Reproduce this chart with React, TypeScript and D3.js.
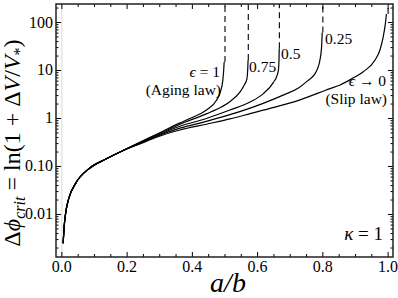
import React from "react";
import * as d3 from "d3";

const xTicks = [0, 0.2, 0.4, 0.6, 0.8, 1.0];
const xTickLabels = ["0.0", "0.2", "0.4", "0.6", "0.8", "1.0"];
const yTicks = [0.01, 0.1, 1, 10, 100];
const yTickLabels = ["0.01", "0.10", "1", "10", "100"];

// shared lower branch (all curves coincide)
const sharedA = [0.004, 0.007, 0.012, 0.022, 0.043, 0.085, 0.135, 0.188];
const sharedV = [0.00252, 0.00556, 0.0112, 0.0225, 0.0455, 0.092, 0.143, 0.216];

// eps = 1 (aging law)
const eps1A = [0.239, 0.29, 0.362, 0.392, 0.443, 0.474, 0.486, 0.493, 0.496, 0.4975];
const eps1V = [0.32, 0.468, 0.81, 1.0, 1.5, 2.4, 3.6, 6, 10, 15];
// eps = 0.75
const eps075A = [0.239, 0.29, 0.362, 0.443, 0.49, 0.515, 0.545, 0.56, 0.567, 0.5695, 0.5708];
const eps075V = [0.316, 0.452, 0.76, 1.25, 1.75, 2.24, 3.5, 5.1, 6.6, 10, 16.5];
// eps = 0.5
const eps05A = [0.239, 0.29, 0.362, 0.443, 0.515, 0.577, 0.6175, 0.648, 0.66, 0.664, 0.6655, 0.6663];
const eps05V = [0.309, 0.437, 0.69, 1.0, 1.5, 2.2, 3.3, 5.6, 8, 10.5, 16, 29];
// eps = 0.25
const eps025A = [0.239, 0.29, 0.362, 0.443, 0.515, 0.617, 0.68, 0.725, 0.752, 0.775, 0.786, 0.791, 0.796, 0.798];
const eps025V = [0.302, 0.422, 0.63, 0.87, 1.2, 2.07, 3.1, 4.3, 6.0, 8.4, 12, 16.5, 30, 62];
// eps -> 0 (slip law)
const eps0A = [0.239, 0.29, 0.362, 0.443, 0.515, 0.577, 0.65, 0.73, 0.822, 0.853, 0.89, 0.923, 0.96, 0.975, 0.985, 0.991, 0.995];
const eps0V = [0.295, 0.407, 0.575, 0.76, 0.98, 1.26, 1.7, 2.45, 4.2, 5.0, 6.8, 9.3, 16.5, 26.7, 50, 88, 150];

const curveAs = [eps1A, eps075A, eps05A, eps025A, eps0A];
const curveVs = [eps1V, eps075V, eps05V, eps025V, eps0V];
const asymptotes = [0.5, 0.5714, 0.6667, 0.8, 1.0];
const dashStart = [15, 16.5, 29, 62, 150];

const W = 398, H = 298;
const L = 56, R = 393, T = 4, B = 257;
const FONT = "'Liberation Serif', 'DejaVu Serif', 'Times New Roman', serif";

export default function App() {
  const x = d3.scaleLinear().domain([-0.018, 1.015]).range([L, R]);
  const y = d3.scaleLog().domain([0.0013, 243]).range([B, T]);
  const line = d3
    .line<[number, number]>()
    .x((d) => x(d[0]))
    .y((d) => y(d[1]))
    .curve(d3.curveMonotoneX);

  const shared: [number, number][] = sharedA.map((a, i) => [a, sharedV[i]]);
  const paths = curveAs.map((as, k) => {
    const pts: [number, number][] = shared.concat(as.map((a, i) => [a, curveVs[k][i]] as [number, number]));
    return line(pts) || "";
  });

  const xMinor: number[] = [];
  for (let i = 1; i < 20; i++) if (i % 4 !== 0) xMinor.push(i * 0.05);
  const yMinor: number[] = [];
  for (let d = -3; d <= 2; d++) for (let k = 2; k <= 9; k++) {
    const v = k * Math.pow(10, d);
    if (v > 0.0013 && v < 243) yMinor.push(v);
  }

  return (
    <svg width={W} height={H} style={{ position: "absolute", left: 0, top: 0, background: "#fff", fontFamily: FONT }}>
      <rect x={0} y={0} width={W} height={H} fill="#fff" />
      <line x1={x(0)} x2={x(0)} y1={T} y2={B} stroke="#c8c8c8" strokeWidth={0.7} />
      {paths.map((p, i) => (
        <path key={i} d={p} fill="none" stroke="#000" strokeWidth={1.2} />
      ))}
      {asymptotes.map((a, i) => (
        <line key={i} x1={x(a)} x2={x(a)} y1={y(dashStart[i])} y2={T} stroke="#000" strokeWidth={1.1} strokeDasharray="6,4" />
      ))}
      <g stroke="#000" strokeWidth={1}>
        {xTicks.map((t, i) => (
          <g key={"xt" + i}>
            <line x1={x(t)} x2={x(t)} y1={B} y2={B - 5} />
            <line x1={x(t)} x2={x(t)} y1={T} y2={T + 5} />
          </g>
        ))}
        {xMinor.map((t, i) => (
          <g key={"xm" + i}>
            <line x1={x(t)} x2={x(t)} y1={B} y2={B - 3} />
            <line x1={x(t)} x2={x(t)} y1={T} y2={T + 3} />
          </g>
        ))}
        {yTicks.map((t, i) => (
          <g key={"yt" + i}>
            <line x1={L} x2={L + 5} y1={y(t)} y2={y(t)} />
            <line x1={R} x2={R - 5} y1={y(t)} y2={y(t)} />
          </g>
        ))}
        {yMinor.map((t, i) => (
          <g key={"ym" + i}>
            <line x1={L} x2={L + 2.5} y1={y(t)} y2={y(t)} />
            <line x1={R} x2={R - 2.5} y1={y(t)} y2={y(t)} />
          </g>
        ))}
      </g>
      <rect x={L} y={T} width={R - L} height={B - T} fill="none" stroke="#222" strokeWidth={1.5} />
      {xTicks.map((t, i) => (
        <text key={"xl" + i} x={x(t)} y={272} fontSize={16} textAnchor="middle" fill="#000">
          {xTickLabels[i]}
        </text>
      ))}
      {yTicks.map((t, i) => (
        <text key={"yl" + i} x={53} y={y(t) + 5} fontSize={16} textAnchor="end" fill="#000">
          {yTickLabels[i]}
        </text>
      ))}
      <text x={228} y={292} fontSize={28} fontStyle="italic" textAnchor="middle" fill="#000">
        a/b
      </text>
      <text transform="translate(20,143) rotate(-90)" fontSize={24} textAnchor="middle" fill="#000">
        Δ<tspan fontStyle="italic">ϕ</tspan>
        <tspan fontStyle="italic" fontSize={16} dy={5}>crit</tspan>
        <tspan dy={-5}> = ln(1 + Δ</tspan>
        <tspan fontStyle="italic">V</tspan>
        <tspan>/</tspan>
        <tspan fontStyle="italic">V</tspan>
        <tspan fontSize={16} dy={5}>*</tspan>
        <tspan dy={-5}>)</tspan>
      </text>
      <g fontSize={15.5} fill="#000">
        <text x={220} y={77} textAnchor="end"><tspan fontStyle="italic">ϵ</tspan> = 1</text>
        <text x={221} y={95} textAnchor="end">(Aging law)</text>
        <text x={249} y={72}>0.75</text>
        <text x={281} y={59}>0.5</text>
        <text x={325} y={44}>0.25</text>
        <text x={386} y={86} textAnchor="end"><tspan fontStyle="italic">ϵ</tspan> → 0</text>
        <text x={387} y={104} textAnchor="end">(Slip law)</text>
      </g>
      <text x={383} y={240} fontSize={19} textAnchor="end" fill="#000">
        <tspan fontStyle="italic">κ</tspan> = 1
      </text>
    </svg>
  );
}
